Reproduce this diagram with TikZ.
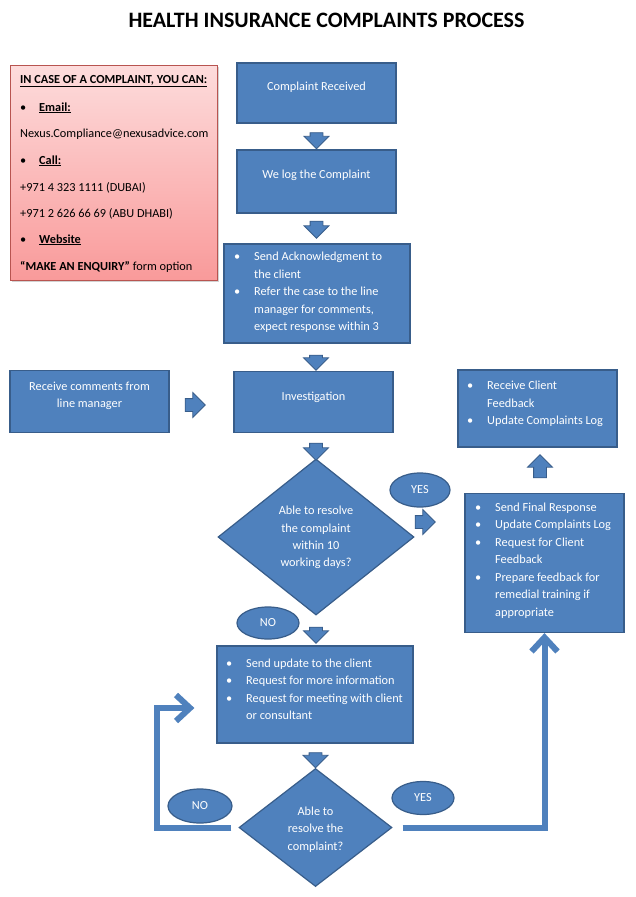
\documentclass[tikz,border=0pt]{standalone}
\usepackage{fontspec}
\setmainfont{Carlito}
\usetikzlibrary{shapes.geometric,shapes.arrows,arrows.meta,shadows}
\definecolor{bfill}{HTML}{4F81BD}
\definecolor{bdraw}{HTML}{385D8A}
\definecolor{pinktop}{HTML}{FDDCDC}
\definecolor{pinkbot}{HTML}{F99A9A}
\definecolor{pinkdraw}{HTML}{B85450}
\newcommand\bul{\makebox[20pt][l]{\textbullet}}
\newcommand\ind{\hspace*{20pt}}
\begin{document}
\begin{tikzpicture}[x=1pt,y=-1pt,
  box/.style={rectangle, draw=bdraw, fill=bfill, line width=1.2pt, inner sep=0},
  dia/.style={diamond, draw=bdraw, fill=bfill, line width=1.2pt, inner sep=0},
  oval/.style={ellipse, draw=bdraw, fill=bfill, line width=1.2pt, inner sep=0, text=white, font=\fontsize{12.3}{13}\selectfont},
  wtxt/.style={text=white, inner sep=0, font=\fontsize{12.3}{17.3}\selectfont, align=center},
  wlist/.style={text=white, inner sep=0, font=\fontsize{12.3}{17.5}\selectfont, align=left, anchor=west},
  btxt/.style={text=black, inner sep=0, font=\fontsize{12.3}{14}\selectfont, anchor=base west},
  barrow/.style={single arrow, draw=bdraw, fill=bfill, line width=0.8pt, inner xsep=0pt, inner ysep=6pt, single arrow head extend=6pt, single arrow tip angle=90},
  flow/.style={draw=bfill, line width=6pt, -{Straight Barb[length=14pt,width=26pt]}},
]
\useasboundingbox (0,0) rectangle (635,897);
\fill[white] (0,0) rectangle (635,897);

% title
\node[inner sep=0, anchor=base, font=\fontsize{22}{24}\bfseries] (title) at (326.5,27) {HEALTH INSURANCE COMPLAINTS PROCESS};

% contact box
\node[rectangle, draw=pinkdraw, line width=0.8pt, top color=pinktop, bottom color=pinkbot, minimum width=207pt, minimum height=215pt, inner sep=0,
  drop shadow={shadow xshift=1.5pt, shadow yshift=-2pt, opacity=0.35}] (contact) at (113.5,172.5) {};
\node[btxt] (c1) at (20,83) {\textbf{\underline{IN CASE OF A COMPLAINT, YOU CAN:}}};
\node[btxt] (c2) at (20,111) {\makebox[19pt][l]{\textbullet}\textbf{\underline{Email:}}};
\node[btxt] (c3) at (20,137) {Nexus.Compliance@nexusadvice.com};
\node[btxt] (c4) at (20,164) {\makebox[19pt][l]{\textbullet}\textbf{\underline{Call:}}};
\node[btxt] (c5) at (20,191) {+971 4 323 1111 (DUBAI)};
\node[btxt] (c6) at (20,217) {+971 2 626 66 69 (ABU DHABI)};
\node[btxt] (c7) at (20,243) {\makebox[19pt][l]{\textbullet}\textbf{\underline{Website}}};
\node[btxt] (c8) at (20,270) {\textbf{“MAKE AN ENQUIRY”} form option};

% main boxes
\node[box, minimum width=159pt, minimum height=60pt] (cr) at (316.5,93) {};
\node[wtxt] (crt) at (316.5,87) {Complaint Received};

\node[box, minimum width=159pt, minimum height=63pt] (log) at (316.5,181.5) {};
\node[wtxt] (logt) at (316.5,175) {We log the Complaint};

\node[box, minimum width=186pt, minimum height=99pt] (ack) at (317,293.5) {};
\node[wlist] (ackt) at (234,292.5) {\bul Send Acknowledgment to\\ \ind the client\\ \bul Refer the case to the line\\ \ind manager for comments,\\ \ind expect response within 3};

\node[box, minimum width=159pt, minimum height=61pt] (inv) at (313.5,402) {};
\node[wtxt] (invt) at (313.5,397) {Investigation};

\node[box, minimum width=159pt, minimum height=62pt] (rcm) at (89.5,401.5) {};
\node[wtxt] (rcmt) at (89.5,395.5) {Receive comments from\\ line manager};

\node[dia, minimum width=196pt, minimum height=156pt] (d1) at (316,537) {};
\node[wtxt] (d1t) at (316,537.5) {Able to resolve\\ the complaint\\ within 10\\ working days?};

\node[box, minimum width=159pt, minimum height=77pt] (fb) at (537.5,408.5) {};
\node[wlist] (fbt) at (467,404) {\bul Receive Client\\ \ind Feedback\\ \bul Update Complaints Log};

\node[box, minimum width=159pt, minimum height=139pt] (fin) at (544.5,563) {};
\node[wlist] (fint) at (475,560.5) {\bul Send Final Response\\ \bul Update Complaints Log\\ \bul Request for Client\\ \ind Feedback\\ \bul Prepare feedback for\\ \ind remedial training if\\ \ind appropriate};

\node[box, minimum width=196pt, minimum height=97pt] (upd) at (315,694.5) {};
\node[wlist] (updt) at (226,689.5) {\bul Send update to the client\\ \bul Request for more information\\ \bul Request for meeting with client\\ \ind or consultant};

\node[dia, minimum width=153pt, minimum height=118pt] (d2) at (315.5,827.5) {};
\node[wtxt] (d2t) at (315.5,829.5) {Able to\\ resolve the\\ complaint?};

% ovals
\node[oval, minimum width=60pt, minimum height=34pt] (yes1) at (420,490) {YES};
\node[oval, minimum width=62pt, minimum height=32pt] (no1) at (268,623) {NO};
\node[oval, minimum width=64pt, minimum height=34pt] (no2) at (200,806) {NO};
\node[oval, minimum width=62pt, minimum height=33pt] (yes2) at (423,798) {YES};

% block arrows
\node[barrow, rotate=-90, minimum height=16pt] (a1) at (316.5,137.5) {};
\node[barrow, rotate=-90, minimum height=17pt] (a2) at (316.5,226.5) {};
\node[barrow, rotate=-90, minimum height=15pt] (a3) at (316,359.5) {};
\node[barrow, minimum height=20pt] (a4) at (192,405) {};
\node[barrow, rotate=-90, minimum height=17pt] (a5) at (316,448.5) {};
\node[barrow, minimum height=20pt] (a6) at (422,522) {};
\node[barrow, rotate=90, minimum height=23pt] (a7) at (540,469.5) {};
\node[barrow, rotate=-90, minimum height=16pt] (a8) at (316,632) {};
\node[barrow, rotate=-90, minimum height=15pt] (a9) at (315.5,757) {};

% loop connectors
\draw[flow, shorten <=7pt, shorten >=22pt] (d2.west) -- (157,827.5) |- ([yshift=-13.5pt]upd.west);
\draw[flow, shorten <=10pt] (d2.east) -| (fin.south);
\end{tikzpicture}
\end{document}
